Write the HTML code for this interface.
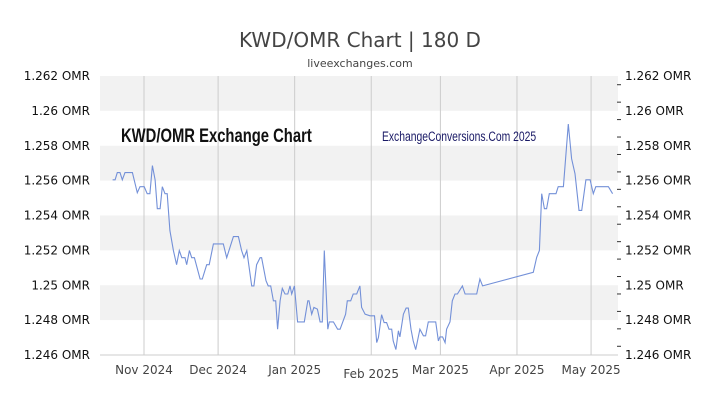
<!DOCTYPE html>
<html><head><meta charset="utf-8"><style>
body{margin:0;background:#fff;}
svg{display:block;font-family:"DejaVu Sans","Liberation Sans",sans-serif;}
</style></head><body>
<svg id="chart" width="720" height="405" viewBox="0 0 720 405">
<text x="360" y="47" text-anchor="middle" font-size="20" fill="#444">KWD/OMR Chart | 180 D</text>
<text x="360" y="67" text-anchor="middle" font-size="11" fill="#444">liveexchanges.com</text>
<g id="bands"></g><g id="grid"></g>
<text x="121" y="142" font-size="19" font-weight="bold" fill="#111" font-family="Liberation Sans Narrow, Liberation Sans, sans-serif" transform="translate(121 0) scale(0.78 1) translate(-121 0)">KWD/OMR Exchange Chart</text>
<text x="382" y="141" font-size="14" fill="#1a1a66" font-family="Liberation Sans Narrow, Liberation Sans, sans-serif" transform="translate(382 0) scale(0.74 1) translate(-382 0)">ExchangeConversions.Com 2025</text>
<g id="axes"></g><g id="series"></g>
</svg>
<script>
const days=[-12.7,-11.7,-10.8,-9.7,-8.8,-7.7,-4.7,-2.7,-1.6,0.1,1.3,2.4,3.4,4.5,5.4,6.5,7.4,8.5,9.4,10.5,11.9,13.2,14.3,15.3,16.6,17.3,18.4,19.3,20.4,22.7,23.6,25.4,26.4,28.1,32.1,33.5,36.2,38.2,39.5,40.5,41.6,43.6,44.5,45.6,47.0,47.6,49.4,50.3,51.3,52.4,53.3,54.1,55.1,56.0,57.1,58.2,59.1,59.8,60.9,62.2,64.9,66.3,66.8,67.9,68.8,70.2,71.3,72.2,73.0,74.4,75.0,76.7,78.4,79.4,81.6,82.3,83.7,84.7,86.1,87.4,88.1,89.5,91.5,93.3,94.2,94.9,96.2,97.2,98.2,99.2,100.3,100.9,102.0,103.0,103.6,105.0,106.1,107.0,108.1,109.0,110.0,111.7,113.1,114.0,115.1,118.1,119.2,119.8,120.9,121.9,122.5,123.9,124.8,125.9,126.9,128.9,130.0,134.7,136.0,137.1,157.6,159.0,160.1,161.0,162.1,163.0,164.1,166.8,167.7,169.8,171.8,173.1,174.5,176.1,177.2,178.9,180.6,181.9,182.9,188.0,189.7];
const rates=[1.25605,1.25605,1.25646,1.25646,1.25605,1.25646,1.25646,1.25531,1.25565,1.25565,1.25525,1.25525,1.25686,1.25605,1.25439,1.25439,1.25565,1.25525,1.25525,1.25314,1.25199,1.25118,1.25199,1.25158,1.25158,1.25118,1.25199,1.25158,1.25158,1.25036,1.25036,1.25118,1.25118,1.25237,1.25237,1.25158,1.25279,1.25279,1.25199,1.25158,1.25199,1.24996,1.24996,1.25118,1.25158,1.25158,1.25026,1.24996,1.24996,1.24911,1.24911,1.24748,1.24911,1.24982,1.24950,1.24950,1.24996,1.24950,1.24996,1.24790,1.24790,1.24911,1.24911,1.24834,1.24873,1.24863,1.24790,1.24790,1.25199,1.24748,1.24790,1.24790,1.24748,1.24748,1.24834,1.24911,1.24911,1.24950,1.24950,1.24996,1.24873,1.24834,1.24825,1.24825,1.24671,1.24700,1.24831,1.24786,1.24786,1.24748,1.24748,1.24681,1.24631,1.24739,1.24704,1.24834,1.24869,1.24869,1.24748,1.24681,1.24631,1.24748,1.24710,1.24710,1.24790,1.24790,1.24681,1.24704,1.24704,1.24671,1.24748,1.24790,1.24911,1.24950,1.24950,1.24996,1.24950,1.24950,1.25036,1.24996,1.25074,1.25160,1.25199,1.25525,1.25439,1.25439,1.25525,1.25525,1.25565,1.25565,1.25924,1.25726,1.25640,1.25429,1.25429,1.25605,1.25605,1.25525,1.25565,1.25565,1.25525];
const yTicks=[1.246,1.248,1.25,1.252,1.254,1.256,1.258,1.26,1.262];
const yTickLabels=["1.246 OMR","1.248 OMR","1.25 OMR","1.252 OMR","1.254 OMR","1.256 OMR","1.258 OMR","1.26 OMR","1.262 OMR"];
const monthDays=[0,30,61,92,120,151,181];
const monthLabels=["Nov 2024","Dec 2024","Jan 2025","Feb 2025","Mar 2025","Apr 2025","May 2025"];
const NS="http://www.w3.org/2000/svg";
const X0=100,X1=618,Y0=355,Y1=76;
const xs=d=>144+d*2.47;
const ys=v=>Y0-(v-1.246)/(0.016)*(Y0-Y1);
function mk(tag,attrs,parent){const e=document.createElementNS(NS,tag);for(const k in attrs)e.setAttribute(k,attrs[k]);document.getElementById(parent).appendChild(e);return e;}
for(let i=1;i<yTicks.length-1;i+=2){
 const top=ys(yTicks[i+1]),bot=ys(yTicks[i]);
 const r=mk('rect',{x:X0,y:top,width:X1-X0,height:bot-top,fill:'#f2f2f2'},'bands');
 
 
}
monthDays.forEach((d,i)=>{
 const l=mk('line',{x1:xs(d),x2:xs(d),y1:Y1,y2:Y0,stroke:'#ccc','stroke-width':1},'grid');
 
 
 const t=mk('text',{x:xs(d),y:i===3?378:374,'text-anchor':'middle','font-size':12,fill:'#444'},'axes');
 
 
 t.textContent=monthLabels[i];
});
const ax=mk('line',{x1:X0,x2:X1,y1:Y0,y2:Y0,stroke:'#ccc'},'axes');


yTicks.forEach((v,i)=>{
 const a=mk('text',{x:90,y:ys(v)+4,'text-anchor':'end','font-size':12,fill:'#111'},'axes');
 
 
 a.textContent=yTickLabels[i];
 const b=mk('text',{x:625,y:ys(v)+4,'font-size':12,fill:'#111'},'axes');
 
 
 b.textContent=yTickLabels[i];
});
for(let v=1.2465;v<1.262;v+=0.001){
 const tk=mk('line',{x1:617,x2:621,y1:ys(v),y2:ys(v),stroke:'#333'},'axes');
 
 
}
const pts=days.map((d,i)=>xs(d).toFixed(1)+','+ys(rates[i]).toFixed(1)).join(' ');
const pl=mk('polyline',{points:pts,fill:'none',stroke:'#7390d8','stroke-width':1.1},'series');


</script>
</body></html>
